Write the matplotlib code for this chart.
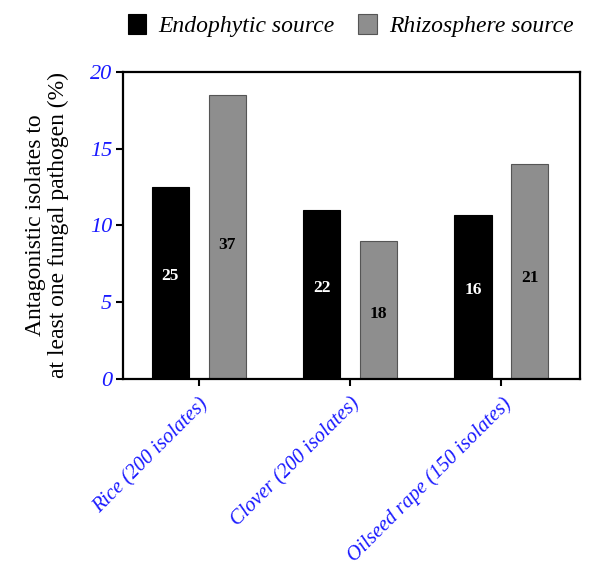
import matplotlib
matplotlib.use("Agg")
import matplotlib.pyplot as plt
import numpy as np

# isolates per crop and antagonistic counts per source
crops = ["Rice", "Clover", "Oilseed rape"]
isolates_per_crop = [200, 200, 150]
endophytic_counts = [25, 22, 16]
rhizosphere_counts = [37, 18, 21]
series_names = ["Endophytic source", "Rhizosphere source"]

plt.rcParams['font.family'] = ['Liberation Serif', 'DejaVu Serif']

endo_pct = [c / n * 100 for c, n in zip(endophytic_counts, isolates_per_crop)]
rhizo_pct = [c / n * 100 for c, n in zip(rhizosphere_counts, isolates_per_crop)]
tick_labels = [f"{c} ({n} isolates)" for c, n in zip(crops, isolates_per_crop)]

fig = plt.figure(figsize=(5.89, 5.70), dpi=100)
ax = fig.add_axes([0.209, 0.335, 0.776, 0.539])

x = np.arange(len(crops))
w = 0.245
off = 0.188
b1 = ax.bar(x - off, endo_pct, w, color="black", edgecolor="black", linewidth=0.8,
            label=series_names[0])
b2 = ax.bar(x + off, rhizo_pct, w, color="#8e8e8e", edgecolor="#555555", linewidth=0.8,
            label=series_names[1])

# count labels inside bars
for rect, n in zip(b1, endophytic_counts):
    ax.text(rect.get_x() + rect.get_width() / 2, rect.get_height() / 2 + 0.45, str(n),
            ha="center", va="center", color="white", fontweight="bold", fontsize=12.5)
for rect, n in zip(b2, rhizosphere_counts):
    ax.text(rect.get_x() + rect.get_width() / 2, rect.get_height() * 0.47, str(n),
            ha="center", va="center", color="black", fontweight="bold", fontsize=12.5)

ax.set_xlim(-0.5, 2.52)
ax.set_ylim(0, 20)
ax.set_yticks([0, 5, 10, 15, 20])
ax.set_xticks(x)
ax.set_xticklabels(tick_labels, rotation=45, ha="right", rotation_mode="anchor",
                   color="#1a1aff", fontstyle="italic", fontsize=14.8)
for lab in ax.get_yticklabels():
    lab.set_color("#1a1aff")
    lab.set_fontstyle("italic")
    lab.set_fontsize(16)

for s in ax.spines.values():
    s.set_linewidth(1.6)
ax.tick_params(axis="both", direction="out", length=5, width=1.5)
ax.tick_params(axis="x", pad=6)
ax.tick_params(axis="y", pad=3)

ax.set_ylabel("Antagonistic isolates to\nat least one fungal pathogen (%)",
              fontsize=17, labelpad=15, linespacing=1.1)

fig.legend(handles=[b1, b2], loc="center", bbox_to_anchor=(0.595, 0.955), ncol=2,
           frameon=False, prop={"style": "italic", "size": 17},
           handlelength=0.8, handleheight=0.9, handletextpad=0.5, columnspacing=1.0)

fig.savefig("out.png", dpi=100)
